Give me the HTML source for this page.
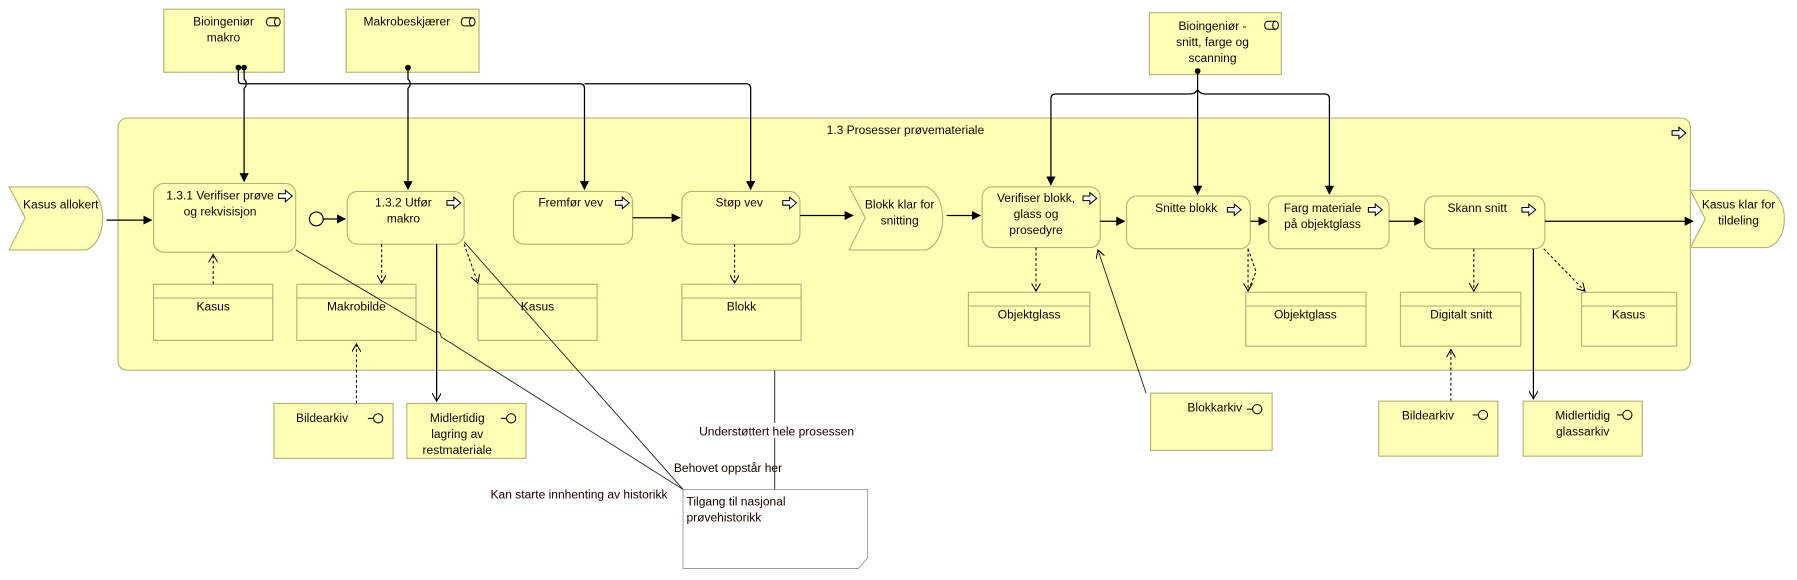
<!DOCTYPE html>
<html><head><meta charset="utf-8"><style>
html,body{margin:0;padding:0;background:#fff;}
svg{display:block;}
text{font-family:"Liberation Sans",sans-serif;font-size:10.5px;fill:#1a0000;}
.b{fill:#ffffb5;stroke:#b5b37a;stroke-width:1;}
.l{stroke:#000;stroke-width:1.1;fill:none;}
.t{stroke:#222;stroke-width:0.8;fill:none;}
.d{stroke:#000;stroke-width:0.9;fill:none;stroke-dasharray:2.5,2;}
</style></head><body>
<svg width="1797" height="580" viewBox="0 0 1568 506" xmlns="http://www.w3.org/2000/svg">
<defs>
<marker id="a" markerWidth="8" markerHeight="8" refX="7" refY="4" orient="auto" markerUnits="userSpaceOnUse"><path d="M0,0 L8,4 L0,8 z" fill="#000"/></marker>
<marker id="o" markerWidth="8" markerHeight="8" refX="7" refY="4" orient="auto" markerUnits="userSpaceOnUse"><path d="M0,0 L7,4 L0,8" fill="none" stroke="#000" stroke-width="0.9"/></marker>
<g id="pi"><path d="M0,-2 h6 v-3 l6,5 l-6,5 v-3 h-6 z" fill="#fff" stroke="#000" stroke-width="0.9"/></g>
<g id="ri"><path d="M3,-3.5 H10 A2.5,3.5 0 0 1 10,3.5 H3 A2.5,3.5 0 0 1 3,-3.5 z" fill="none" stroke="#000" stroke-width="0.9"/><path d="M10,-3.5 A2.5,3.5 0 0 0 10,3.5" fill="none" stroke="#000" stroke-width="0.9"/></g>
<g id="ii"><line x1="0" y1="0" x2="5" y2="0" stroke="#000" stroke-width="0.9"/><circle cx="9" cy="0" r="4" fill="none" stroke="#000" stroke-width="0.9"/></g>
</defs>

<rect class="b" x="103" y="103" width="1372" height="220" rx="8"/>
<text x="790" y="117" text-anchor="middle">1.3 Prosesser prøvemateriale</text>
<use href="#pi" x="1459" y="116"/>

<rect class="b" x="143" y="8" width="105" height="55"/>
<text x="195" y="22" text-anchor="middle">Bioingeniør</text><text x="195" y="36" text-anchor="middle">makro</text>
<use href="#ri" x="232" y="19"/>
<rect class="b" x="302" y="8" width="116" height="55"/>
<text x="355" y="22" text-anchor="middle">Makrobeskjærer</text>
<use href="#ri" x="402" y="19"/>
<rect class="b" x="1003" y="11" width="115" height="54"/>
<text x="1058" y="26" text-anchor="middle">Bioingeniør -</text><text x="1058" y="40" text-anchor="middle">snitt, farge og</text><text x="1058" y="54" text-anchor="middle">scanning</text>
<use href="#ri" x="1103" y="22"/>

<circle cx="208" cy="59" r="2.5"/><circle cx="213" cy="59" r="2.5"/><circle cx="356" cy="59" r="2.5"/><circle cx="1045" cy="62" r="2.5"/>
<path class="l" d="M208,59 V70 Q208,73 211,73 H506 Q510,73 510,77 V165" marker-end="url(#a)"/>
<path class="l" d="M510,73 H651 Q655,73 655,77 V165" marker-end="url(#a)"/>
<path class="l" d="M213,59 V69 Q217,73 213,77 V158" marker-end="url(#a)"/>
<path class="l" d="M356,59 V69 Q360,73 356,77 V165" marker-end="url(#a)"/>
<path class="l" d="M1045,62 V78 Q1043,82 1038,82 H921 Q917,82 917,86 V161" marker-end="url(#a)"/>
<path class="l" d="M1045,78 V169" marker-end="url(#a)"/>
<path class="l" d="M1045,78 Q1047,82 1052,82 H1156 Q1160,82 1160,86 V169" marker-end="url(#a)"/>

<path class="b" d="M8,163 H75 A18,28 0 0 1 75,218 H8 L22,190 z"/>
<text x="53" y="182" text-anchor="middle">Kasus allokert</text>
<path class="b" d="M741,163 H808 A18,28 0 0 1 808,218 H741 L755,190 z"/>
<text x="785" y="182" text-anchor="middle">Blokk klar for</text><text x="785" y="196" text-anchor="middle">snitting</text>
<path class="b" d="M1475,166 H1540 A17,25 0 0 1 1540,216 H1475 L1488,191 z"/>
<text x="1517" y="182" text-anchor="middle">Kasus klar for</text><text x="1517" y="196" text-anchor="middle">tildeling</text>

<rect class="b" x="134" y="160" width="124" height="60" rx="9"/>
<text x="192" y="174" text-anchor="middle">1.3.1 Verifiser prøve</text><text x="192" y="188" text-anchor="middle">og rekvisisjon</text>
<use href="#pi" x="243" y="171"/>
<rect class="b" x="303" y="167" width="102" height="46" rx="9"/>
<text x="352" y="180" text-anchor="middle">1.3.2 Utfør</text><text x="352" y="194" text-anchor="middle">makro</text>
<use href="#pi" x="390" y="177"/>
<rect class="b" x="448" y="167" width="104" height="46" rx="9"/>
<text x="498" y="180" text-anchor="middle">Fremfør vev</text>
<use href="#pi" x="537" y="177"/>
<rect class="b" x="595" y="167" width="103" height="46" rx="9"/>
<text x="645" y="180" text-anchor="middle">Støp vev</text>
<use href="#pi" x="683" y="177"/>
<rect class="b" x="857" y="163" width="103" height="53" rx="9"/>
<text x="904" y="176" text-anchor="middle">Verifiser blokk,</text><text x="904" y="190" text-anchor="middle">glass og</text><text x="904" y="204" text-anchor="middle">prosedyre</text>
<use href="#pi" x="945" y="173"/>
<rect class="b" x="983" y="171" width="108" height="46" rx="9"/>
<text x="1035" y="185" text-anchor="middle">Snitte blokk</text>
<use href="#pi" x="1071" y="183"/>
<rect class="b" x="1107" y="171" width="105" height="46" rx="9"/>
<text x="1154" y="185" text-anchor="middle">Farg materiale</text><text x="1154" y="199" text-anchor="middle">på objektglass</text>
<use href="#pi" x="1194" y="183"/>
<rect class="b" x="1243" y="171" width="105" height="46" rx="9"/>
<text x="1289" y="185" text-anchor="middle">Skann snitt</text>
<use href="#pi" x="1328" y="183"/>
<circle cx="276" cy="191" r="6" fill="none" stroke="#000" stroke-width="1"/>

<path class="l" d="M93,192 H132" marker-end="url(#a)"/>
<path class="l" d="M282,191 H301" marker-end="url(#a)"/>
<path class="l" d="M552,190 H593" marker-end="url(#a)"/>
<path class="l" d="M698,188 H744" marker-end="url(#a)"/>
<path class="l" d="M826,188 H855" marker-end="url(#a)"/>
<path class="l" d="M960,193 H981" marker-end="url(#a)"/>
<path class="l" d="M1091,193 H1105" marker-end="url(#a)"/>
<path class="l" d="M1212,193 H1241" marker-end="url(#a)"/>
<path class="l" d="M1348,193 H1477" marker-end="url(#a)"/>

<g>
<rect class="b" x="134" y="248" width="104" height="49"/><line class="b" x1="134" y1="260" x2="238" y2="260"/><text x="186" y="271" text-anchor="middle">Kasus</text>
<rect class="b" x="259" y="248" width="104" height="49"/><line class="b" x1="259" y1="260" x2="363" y2="260"/><text x="311" y="271" text-anchor="middle">Makrobilde</text>
<rect class="b" x="417" y="248" width="104" height="49"/><line class="b" x1="417" y1="260" x2="521" y2="260"/><text x="469" y="271" text-anchor="middle">Kasus</text>
<rect class="b" x="595" y="248" width="104" height="49"/><line class="b" x1="595" y1="260" x2="699" y2="260"/><text x="647" y="271" text-anchor="middle">Blokk</text>
<rect class="b" x="845" y="255" width="106" height="47"/><line class="b" x1="845" y1="267" x2="951" y2="267"/><text x="898" y="278" text-anchor="middle">Objektglass</text>
<rect class="b" x="1087" y="255" width="105" height="47"/><line class="b" x1="1087" y1="267" x2="1192" y2="267"/><text x="1139" y="278" text-anchor="middle">Objektglass</text>
<rect class="b" x="1222" y="255" width="105" height="47"/><line class="b" x1="1222" y1="267" x2="1327" y2="267"/><text x="1275" y="278" text-anchor="middle">Digitalt snitt</text>
<rect class="b" x="1380" y="255" width="83" height="47"/><line class="b" x1="1380" y1="267" x2="1463" y2="267"/><text x="1421" y="278" text-anchor="middle">Kasus</text>
</g>

<path class="d" d="M186,248 V222" marker-end="url(#o)"/>
<path class="d" d="M333,213 V247" marker-end="url(#o)"/>
<path class="d" d="M405,213 L417,247" marker-end="url(#o)"/>
<path class="d" d="M641,213 V247" marker-end="url(#o)"/>
<path class="d" d="M904,216 V254" marker-end="url(#o)"/>
<path class="d" d="M1089,217 V254" marker-end="url(#o)"/>
<path class="d" d="M1089,217 L1096,237 L1089,254"/>
<path class="d" d="M1286,217 V254" marker-end="url(#o)"/>
<path class="d" d="M1347,217 L1383,254" marker-end="url(#o)"/>
<path class="d" d="M311,352 V300" marker-end="url(#o)"/>
<path class="d" d="M1266,350 V305" marker-end="url(#o)"/>

<rect class="b" x="239" y="352" width="104" height="48"/><text x="281" y="368" text-anchor="middle">Bildearkiv</text><use href="#ii" x="321" y="365"/>
<rect class="b" x="355" y="352" width="104" height="48"/><text x="399" y="368" text-anchor="middle">Midlertidig</text><text x="399" y="382" text-anchor="middle">lagring av</text><text x="399" y="396" text-anchor="middle">restmateriale</text><use href="#ii" x="437" y="365"/>
<rect class="b" x="1004" y="343" width="106" height="50"/><text x="1060" y="359" text-anchor="middle">Blokkarkiv</text><use href="#ii" x="1088" y="357"/>
<rect class="b" x="1203" y="350" width="104" height="48"/><text x="1246" y="366" text-anchor="middle">Bildearkiv</text><use href="#ii" x="1285" y="362"/>
<rect class="b" x="1329" y="350" width="104" height="48"/><text x="1381" y="366" text-anchor="middle">Midlertidig</text><text x="1381" y="380" text-anchor="middle">glassarkiv</text><use href="#ii" x="1411" y="362"/>

<path class="l" d="M381,213 V350" marker-end="url(#o)"/>
<path class="l" d="M1338,217 V348" marker-end="url(#o)"/>
<path class="t" d="M1000,343 L958,218" marker-end="url(#o)"/>

<path d="M596,427 H757 V487 L749,496 H596 z" fill="#fff" stroke="#999" stroke-width="0.8"/>
<text x="599" y="441">Tilgang til nasjonal</text><text x="599" y="455">prøvehistorikk</text>
<path class="t" d="M676,323 V427"/>
<path class="t" d="M596,427 L385,294 Q384,288 380,290 L258,218"/>
<path class="t" d="M596,427 L405,211"/>
<rect x="606" y="369" width="136" height="13" fill="#fff"/>
<text x="610" y="380">Understøttert hele prosessen</text>
<text x="588" y="412">Behovet oppstår her</text>
<text x="428" y="435">Kan starte innhenting av historikk</text>
</svg>
</body></html>
